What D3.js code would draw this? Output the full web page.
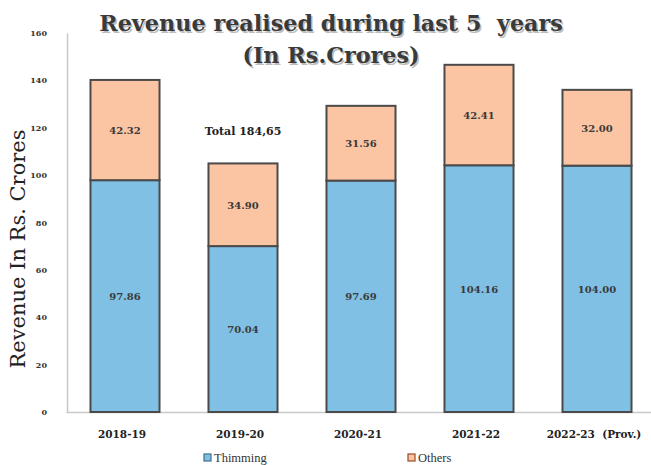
<!DOCTYPE html>
<html>
<head>
<meta charset="utf-8">
<script src="https://cdn.jsdelivr.net/npm/d3@7"></script>
<style>
  html, body { margin: 0; padding: 0; background: #fff; }
  svg { display: block; }
</style>
</head>
<body>
<svg id="chart" width="651" height="465"></svg>
<script>
// Revenue by financial year, split into Thimming and Others (Rs. Crores)
const categories = ["2018-19", "2019-20", "2020-21", "2021-22", "2022-23  (Prov.)"];
const thimming = [97.86, 70.04, 97.69, 104.16, 104.00];
const others = [42.32, 34.90, 31.56, 42.41, 32.00];
const seriesNames = ["Thimming", "Others"];
const yTicks = [0, 20, 40, 60, 80, 100, 120, 140, 160];
const totalNote = { category: "2019-20", value: 117, text: "Total 184,65" };

const colors = { Thimming: "#80c0e4", Others: "#fbc4a2" };
const serif = "'DejaVu Serif', 'Liberation Serif', serif";
const times = "'Liberation Serif', 'DejaVu Serif', serif";

const svg = d3.select("#chart");

const rows = categories.map((c, i) => ({ category: c, Thimming: thimming[i], Others: others[i] }));
const stacked = d3.stack().keys(seriesNames)(rows);

const x = d3.scaleBand().domain(categories).range([66, 656]).paddingInner(0.415).paddingOuter(0.2075);
const y = d3.scaleLinear().domain([0, 160]).range([412, 33]);

// Y axis: light vertical rule with small bold tick numbers, no tick marks
const yAxis = svg.append("g")
  .attr("transform", "translate(67,0)")
  .call(d3.axisLeft(y).tickValues(yTicks).tickSize(0).tickPadding(20));
yAxis.select(".domain").attr("stroke", "#c8c8c8").attr("stroke-width", 1.5);
yAxis.selectAll("text")
  .attr("font-family", serif).attr("font-size", 8).attr("font-weight", "bold").attr("fill", "#333");

// X axis baseline across the plot
const xAxis = svg.append("g")
  .attr("transform", "translate(0,412)")
  .call(d3.axisBottom(x).tickSize(0).tickPadding(19));
xAxis.select(".domain").attr("stroke", "#c8c8c8").attr("stroke-width", 1.5);
xAxis.selectAll("text")
  .attr("font-family", serif).attr("font-size", 10.5).attr("font-weight", "bold").attr("fill", "#222")
  .attr("dx", -3)
  .style("white-space", "pre");

// Stacked bars
const layers = svg.append("g").selectAll("g")
  .data(stacked)
  .join("g")
  .attr("fill", d => colors[d.key]);

layers.selectAll("rect")
  .data(d => d.map(v => ({ key: d.key, v })))
  .join("rect")
  .attr("x", d => x(d.v.data.category))
  .attr("y", d => y(d.v[1]))
  .attr("width", x.bandwidth())
  .attr("height", d => y(d.v[0]) - y(d.v[1]))
  .attr("stroke", "#4a4a4a")
  .attr("stroke-width", 2);

// Segment value labels
layers.selectAll("text")
  .data(d => d.map(v => ({ key: d.key, v })))
  .join("text")
  .attr("x", d => x(d.v.data.category) + x.bandwidth() / 2)
  .attr("y", d => (y(d.v[0]) + y(d.v[1])) / 2 + 4)
  .attr("text-anchor", "middle")
  .attr("font-family", serif).attr("font-size", 10).attr("font-weight", "bold")
  .attr("fill", "#3a3a3a")
  .text(d => d.v.data[d.key].toFixed(2));

// Total annotation above the 2019-20 bar
svg.append("text")
  .attr("x", x(totalNote.category) + x.bandwidth() / 2)
  .attr("y", y(totalNote.value))
  .attr("text-anchor", "middle")
  .attr("font-family", serif).attr("font-size", 11).attr("font-weight", "bold")
  .attr("fill", "#222")
  .text(totalNote.text);

// Title with a soft drop shadow
const title = svg.append("g")
  .attr("font-family", serif).attr("font-weight", "bold").attr("font-size", 22.3)
  .attr("text-anchor", "middle");
[["Revenue realised during last 5  years", 31], ["(In Rs.Crores)", 63]].forEach(([t, yy]) => {
  title.append("text").attr("x", 331).attr("y", yy + 1.5).attr("dx", 1.5)
    .attr("fill", "#bdbdbd").style("white-space", "pre").text(t);
  title.append("text").attr("x", 331).attr("y", yy)
    .attr("fill", "#3a3a3a").style("white-space", "pre").text(t);
});

// Y axis title
svg.append("text")
  .attr("transform", "translate(25,249) rotate(-90)")
  .attr("text-anchor", "middle")
  .attr("font-family", serif).attr("font-size", 21).attr("fill", "#222")
  .text("Revenue In Rs. Crores");

// Legend
const legendItems = [{ name: "Thimming", x: 204, stroke: "#3f6f8f" }, { name: "Others", x: 408, stroke: "#9a4a2a" }];
const legend = svg.append("g");
legendItems.forEach(it => {
  legend.append("rect").attr("x", it.x).attr("y", 454).attr("width", 7).attr("height", 7)
    .attr("fill", colors[it.name]).attr("stroke", it.stroke).attr("stroke-width", 1.2);
  legend.append("text").attr("x", it.x + 10).attr("y", 462)
    .attr("font-family", times).attr("font-size", 12.5).attr("fill", "#333").text(it.name);
});
</script>
</body>
</html>
